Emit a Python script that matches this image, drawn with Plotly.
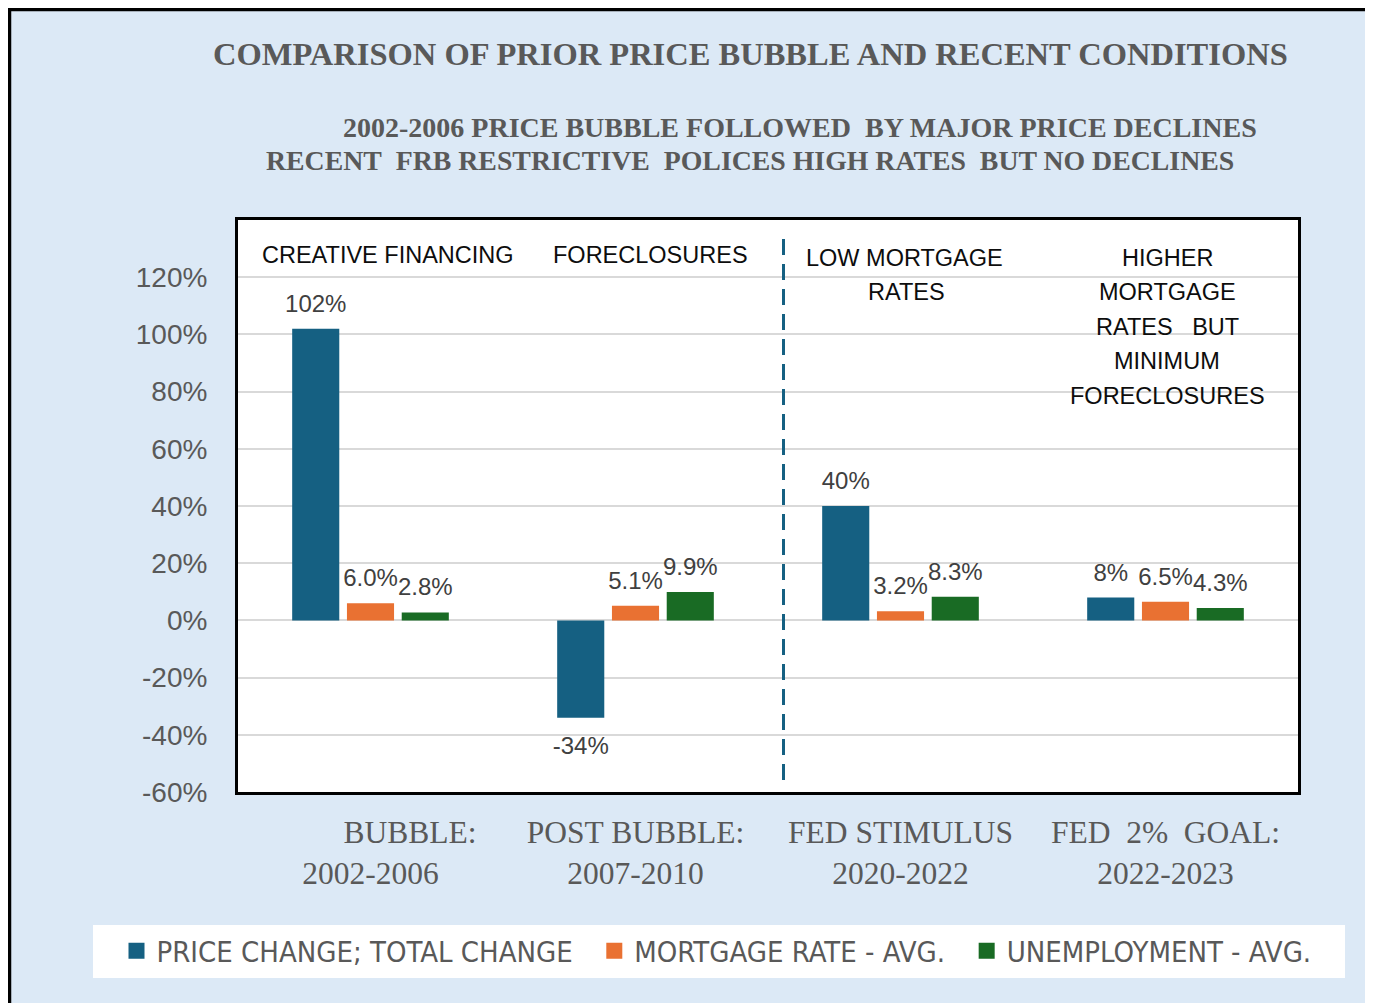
import plotly.graph_objects as go

# ---------------- data ----------------
categories = ["\u00a0" * 10 + "BUBBLE:<br>2002-2006",
              "POST BUBBLE:<br>2007-2010",
              "FED STIMULUS<br>2020-2022",
              "FED\u00a0\u00a02%\u00a0\u00a0GOAL:<br>2022-2023"]
price_change = [102, -34, 40, 8]
mortgage_rate = [6.0, 5.1, 3.2, 6.5]
unemployment = [2.8, 9.9, 8.3, 4.3]
series_names = ["PRICE CHANGE; TOTAL CHANGE", "MORTGAGE RATE - AVG.", "UNEMPLOYMENT - AVG."]
legend_pad = [2, 2, 0]   # trailing spaces to mimic the legend spacing
y_ticks = [-60, -40, -20, 0, 20, 40, 60, 80, 100, 120]

BLUE, ORANGE, GREEN = "#156082", "#E97132", "#196B24"
BG = "#DCE9F6"
GRAY = "#595959"

# page geometry (the page body has an 8px margin)
OFF = 8
FW, FH = 1365, 995
L, R, T, B = 238, 1298, 220, 792   # plot area in page pixels
def fx(px):
    return (px - L) / (R - L)
def fy(py):
    return (B - py) / (B - T)

NARROW = "Liberation Sans Narrow, DejaVu Sans Condensed, Arial Narrow, sans-serif"
SANS = "Liberation Sans, Arial, sans-serif"
SERIF = "Liberation Serif, Times New Roman, serif"

fig = go.Figure()

series = [(price_change, BLUE, "%{y:.0f}%"),
          (mortgage_rate, ORANGE, "%{y:.1f}%"),
          (unemployment, GREEN, "%{y:.1f}%")]

for i, (vals, col, tmpl) in enumerate(series):
    fig.add_trace(go.Bar(x=categories, y=vals, marker=dict(color=col, line=dict(width=0)),
                         name=series_names[i], showlegend=False, hoverinfo="skip",
                         offsetgroup=f"g{i}"))
for i, (vals, col, tmpl) in enumerate(series):
    fig.add_trace(go.Scatter(x=categories, y=vals, mode="markers+text",
                             texttemplate=tmpl,
                             textposition=["top center" if v >= 0 else "bottom center" for v in vals],
                             textfont=dict(family=SANS, size=24, color="#404040"),
                             marker=dict(size=[16 if v >= 0 else 27 for v in vals],
                                         color="rgba(0,0,0,0)", opacity=0,
                                         line=dict(width=0, color="rgba(0,0,0,0)")),
                             offsetgroup=f"g{i}", showlegend=False, hoverinfo="skip",
                             cliponaxis=False))
for i, (vals, col, tmpl) in enumerate(series):
    fig.add_trace(go.Scatter(x=[None], y=[None], mode="markers",
                             name=series_names[i] + "\u00a0" * legend_pad[i],
                             marker=dict(symbol="square", size=19, color=col, line=dict(width=0)),
                             offsetgroup=f"g{i}", hoverinfo="skip"))

shapes = [
    # black frame lines (top and left)
    dict(type="line", xref="paper", yref="paper", x0=fx(8), x1=fx(OFF + FW), y0=fy(9.5), y1=fy(9.5),
         line=dict(color="black", width=3.5), layer="below"),
    dict(type="line", xref="paper", yref="paper", x0=fx(9.5), x1=fx(9.5), y0=fy(OFF + FH), y1=fy(8),
         line=dict(color="black", width=3.5), layer="below"),
    # legend box
    dict(type="rect", xref="paper", yref="paper", x0=fx(93), x1=fx(1345), y0=fy(978), y1=fy(925),
         fillcolor="white", line=dict(width=0), layer="below"),
    # dashed divider
    dict(type="line", xref="paper", yref="paper", x0=fx(783.5), x1=fx(783.5), y0=fy(780), y1=fy(237),
         line=dict(color=BLUE, width=3, dash="16px,9px")),
]

ann = []
def add_ann(text, px, py, size, color, family, bold=False):
    ann.append(dict(text=f"<b>{text}</b>" if bold else text, xref="paper", yref="paper",
                    x=fx(px), y=fy(py), xanchor="center", yanchor="middle", showarrow=False,
                    font=dict(family=family, size=size, color=color)))

add_ann("COMPARISON OF PRIOR PRICE BUBBLE AND RECENT CONDITIONS", 750, 54, 32.5, GRAY, SERIF, True)
add_ann("2002-2006 PRICE BUBBLE FOLLOWED\u00a0 BY MAJOR PRICE DECLINES", 800, 127, 28, GRAY, SERIF, True)
add_ann("RECENT\u00a0 FRB RESTRICTIVE\u00a0 POLICES HIGH RATES\u00a0 BUT NO DECLINES", 750, 160, 27.8, GRAY, SERIF, True)

INK = "#0D0D0D"
add_ann("CREATIVE FINANCING", 388, 255, 23.5, INK, SANS)
add_ann("FORECLOSURES", 650, 255, 23.5, INK, SANS)
add_ann("LOW MORTGAGE", 904, 258, 23.5, INK, SANS)
add_ann("RATES", 906, 292, 23.5, INK, SANS)
for txt, yy in [("HIGHER", 258), ("MORTGAGE", 292), ("RATES\u00a0\u00a0 BUT", 327),
                ("MINIMUM", 361), ("FORECLOSURES", 396)]:
    add_ann(txt, 1167, yy, 23.5, INK, SANS)

fig.update_layout(
    width=FW, height=FH,
    margin=dict(l=L - OFF, r=OFF + FW - R, t=T - OFF, b=OFF + FH - B, pad=0),
    paper_bgcolor=BG, plot_bgcolor="white",
    barmode="group", bargap=0.38, bargroupgap=0.14,
    scattermode="group", scattergap=0.38,
    shapes=shapes, annotations=ann,
    showlegend=True,
    legend=dict(orientation="h", xref="paper", yref="paper",
                x=fx(116.5), xanchor="left",
                y=fy(951), yanchor="middle", bgcolor="rgba(0,0,0,0)",
                font=dict(family=NARROW, size=29, color=GRAY),
                itemsizing="trace", tracegroupgap=0),
    hovermode=False,
)

fig.update_xaxes(type="category", range=[-0.5, 3.5], showgrid=False,
                 showline=True, mirror=True, linecolor="black", linewidth=3,
                 ticks="", tickfont=dict(family=SERIF, size=31.5, color=GRAY),
                 ticklabelstandoff=10, fixedrange=True)
fig.update_yaxes(range=[-60, 140], tickvals=y_ticks, ticktext=[f"{v}%" for v in y_ticks],
                 showgrid=True, gridcolor="#D9D9D9", gridwidth=1.5,
                 zeroline=True, zerolinecolor="#D9D9D9", zerolinewidth=1.5,
                 showline=True, mirror=True, linecolor="black", linewidth=3,
                 ticks="", tickfont=dict(family=SANS, size=28, color=GRAY),
                 ticklabelstandoff=22, fixedrange=True)

fig.write_html("out.html")
